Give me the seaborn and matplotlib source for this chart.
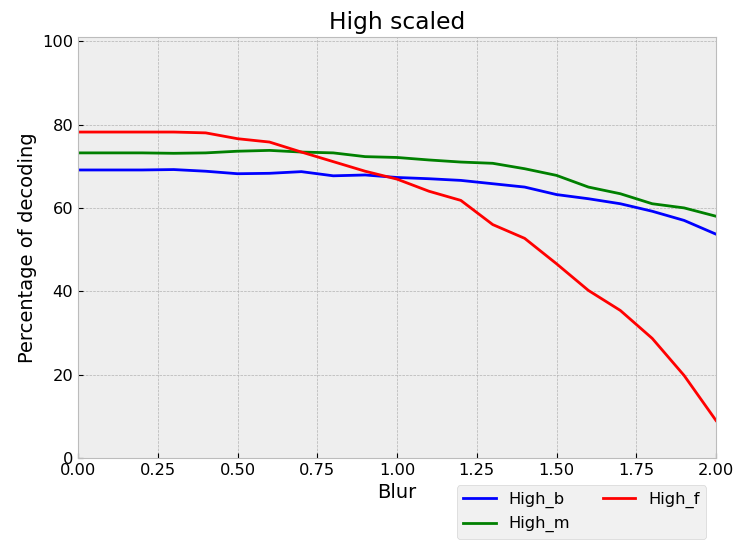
import numpy as np
import pandas as pd
import matplotlib
matplotlib.use("Agg")
import matplotlib.pyplot as plt
import seaborn as sns

# ── Data ─────────────────────────────────────────────────────────────────────
blur = [0.0, 0.1, 0.2, 0.3, 0.4, 0.5, 0.6, 0.7, 0.8, 0.9, 1.0,
        1.1, 1.2, 1.3, 1.4, 1.5, 1.6, 1.7, 1.8, 1.9, 2.0]
high_b = [69.1, 69.1, 69.1, 69.2, 68.8, 68.2, 68.3, 68.7, 67.7, 67.9, 67.3,
          67.0, 66.6, 65.8, 65.0, 63.2, 62.2, 61.0, 59.2, 57.0, 53.7]
high_m = [73.2, 73.2, 73.2, 73.1, 73.2, 73.6, 73.8, 73.4, 73.2, 72.3, 72.1,
          71.5, 71.0, 70.7, 69.4, 67.8, 65.0, 63.4, 61.0, 60.0, 58.0]
high_f = [78.2, 78.2, 78.2, 78.2, 78.0, 76.6, 75.8, 73.4, 71.1, 68.8, 66.9,
          64.0, 61.8, 56.0, 52.7, 46.6, 40.2, 35.4, 28.7, 19.8, 9.0]
series_names = ["High_b", "High_m", "High_f"]
series_colors = ["blue", "green", "red"]

df = pd.DataFrame({"Blur": blur, "High_b": high_b, "High_m": high_m, "High_f": high_f})
long = df.melt(id_vars="Blur", var_name="series", value_name="pct")

plt.style.use("bmh")
plt.rcParams["font.size"] = 11.7

fig = plt.figure(figsize=(7.37, 5.41), dpi=100)
ax = fig.add_axes([0.106, 0.1534, 0.8655, 0.7782])

sns.lineplot(data=long, x="Blur", y="pct", hue="series", hue_order=series_names,
             palette=series_colors, linewidth=2, ax=ax)

ax.set_xlim(0, 2)
ax.set_ylim(0, 101)
ax.set_xticks(np.arange(0, 2.01, 0.25))
ax.set_xticklabels([f"{t:.2f}" for t in np.arange(0, 2.01, 0.25)])
ax.set_title("High scaled")
ax.set_xlabel("Blur")
ax.set_ylabel("Percentage of decoding")

sns.move_legend(ax, "upper right", bbox_to_anchor=(0.985, -0.065), ncol=2,
                title=None, borderaxespad=0, frameon=True)

fig.savefig("out.png", dpi=100)
